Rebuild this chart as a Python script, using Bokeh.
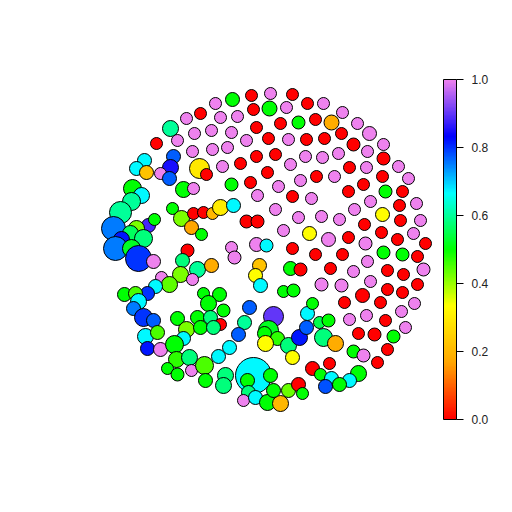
from bokeh.plotting import figure
from bokeh.models import ColumnDataSource, Range1d, ColorBar, LinearColorMapper, FixedTicker, PrintfTickFormatter
from bokeh.embed import file_html
from bokeh.resources import INLINE

# circle data: centre x, centre y (page pixels, y downward), radius, value 0..1
cx = [215, 232, 251, 270, 292, 200, 253, 269, 286, 307, 323, 342, 186, 220, 237, 256, 280, 298, 315, 331,
      357, 170, 194, 211, 231, 268, 288, 306, 324, 341, 369, 246, 156, 177, 227, 212, 192, 256, 275, 305,
      322, 338, 353, 383, 367, 383, 222, 240, 290, 349, 366, 398, 267, 300, 316, 334, 382, 408, 231, 250,
      278, 363, 348, 385, 402, 257, 292, 311, 144, 173, 136, 146, 170, 160, 169, 199, 206, 132, 141, 131,
      183, 193, 120, 113, 148, 154, 136, 130, 121, 143, 115, 131, 138, 153, 172, 181, 193, 203, 212, 220,
      233, 191, 201, 187, 182, 197, 211, 180, 192, 161, 169, 155, 147, 124, 135, 138, 203, 219, 208,
      133, 143, 153, 177, 197, 210, 186, 200, 145, 157, 183, 147, 160, 174, 176, 189, 167, 177, 191, 204,
      205, 220, 223, 213, 249, 244, 238, 229, 218, 273, 268, 264, 277, 265, 288, 299, 306, 307, 312, 319,
      323, 292, 335, 253, 247, 270, 248, 225, 223, 243, 255, 267, 280, 288, 298, 302, 273, 312, 320, 329,
      331, 325, 328, 349, 366, 385, 401, 405, 358, 374, 393, 353, 363, 387, 377, 358, 349, 339,
      246, 257, 275, 298, 321, 283, 309, 328, 256, 266, 231, 234, 292, 315, 259, 255, 260, 290, 300, 321,
      283, 293, 370, 354, 382, 399, 416, 339, 364, 400, 420, 348, 365, 381, 397, 413, 425, 342, 383, 402,
      417, 330, 353, 367, 387, 403, 423, 341, 370, 387, 402, 417, 362, 344, 380, 414]
cy = [103, 99, 95, 93, 94, 113, 109, 108, 107, 103, 103, 112, 118, 117, 116, 127, 123, 122, 119, 122,
      123, 128, 133, 130, 132, 138, 139, 139, 138, 133, 133, 140, 143, 140, 147, 149, 151, 156, 154, 156,
      157, 153, 144, 144, 151, 158, 166, 163, 164, 167, 167, 166, 172, 180, 176, 176, 176, 178, 184, 182,
      186, 184, 191, 191, 191, 195, 196, 198, 160, 156, 168, 172, 167, 173, 178, 168, 174, 188, 195, 201,
      189, 188, 212, 228, 225, 219, 228, 233, 239, 238, 248, 248, 258, 261, 208, 218, 213, 212, 213, 207,
      205, 227, 234, 250, 260, 269, 265, 274, 279, 277, 284, 286, 293, 294, 293, 301, 293, 294, 303,
      308, 317, 320, 318, 317, 317, 329, 327, 336, 332, 338, 348, 349, 344, 359, 357, 368, 374, 370, 365,
      380, 324, 310, 327, 307, 322, 334, 347, 356, 316, 330, 333, 338, 343, 345, 337, 327, 313, 303, 322,
      337, 357, 343, 375, 380, 375, 392, 375, 385, 400, 397, 402, 403, 390, 384, 393, 390, 368, 374, 363,
      378, 386, 320, 319, 315, 320, 311, 327, 333, 334, 336, 351, 355, 349, 362, 373, 380, 384,
      221, 221, 209, 217, 216, 230, 233, 239, 244, 245, 247, 257, 248, 254, 265, 275, 285, 268, 269, 284,
      291, 290, 201, 209, 214, 205, 203, 219, 224, 220, 220, 237, 243, 232, 239, 233, 243, 254, 252, 254,
      256, 268, 271, 261, 270, 274, 269, 285, 281, 289, 292, 284, 295, 302, 302, 303]
rad = [6, 7, 6, 6, 6, 6, 6, 7.5, 6, 6, 6, 6, 6, 6, 6, 6, 6, 6.5, 6, 7.5,
       6, 8, 6, 6, 6, 6, 6, 6, 6, 6, 7, 6, 6, 6, 6, 6, 6, 6, 6, 6,
       6, 6, 6.5, 6, 6, 6.5, 6, 6, 6, 6, 6, 6, 6, 6, 6, 6, 6, 6, 6.5, 6,
       6, 6, 6, 6.5, 6, 6, 6, 6, 7, 7, 7, 7, 8, 6, 7, 10, 6, 9, 8, 9,
       8, 6, 11, 12, 7, 6, 8, 8, 8, 9, 12, 9, 13, 7, 6, 8, 6, 6, 6, 8,
       7, 7, 6, 6.5, 7, 8, 7, 8, 6, 6, 8, 7, 7, 7, 7, 8, 6, 7, 8,
       7, 9, 7, 7, 7, 7, 8, 7, 8, 7, 7, 7, 7, 9, 8, 8, 6, 6.5, 6, 9,
       7, 6, 6.5, 7, 7, 7, 7, 7, 7, 10, 10, 7, 7, 8, 8, 8, 7, 7, 6, 6,
       9, 7, 8, 18, 7, 7, 7, 8, 8, 6, 7, 8, 8, 7, 7, 6, 7, 7, 6, 6,
       7, 7, 6.5, 6, 6, 6, 6, 6, 6, 6.5, 6.5, 6.5, 6.5, 6, 6, 8, 7, 7,
       6.5, 6.5, 6, 6, 6, 6, 7, 7, 7, 6.5, 6, 6.5, 6, 6, 7, 7, 7, 7, 6.5, 6.5,
       6, 6.5, 6, 6, 7, 6, 6, 6, 6, 6, 6, 6, 6.5, 6, 6, 6, 6, 6, 6.5, 6.5,
       6, 6, 6, 6, 6, 6, 6.5, 6.5, 6, 6, 6, 6, 7, 6, 6, 6]
val = [1, 0.5, 0, 1, 0, 0, 0, 0.5, 1, 0, 1, 1, 1, 1, 1, 0, 0, 0.5, 0, 0.18,
       1, 0.6, 1, 1, 1, 0, 1, 0, 0, 0, 1, 1, 0, 1, 1, 1, 1, 0, 0, 1,
       1, 1, 0, 1, 1, 0, 1, 0, 1, 0, 1, 1, 0, 1, 0, 1, 0, 1, 0.5, 0,
       1, 0, 0, 0.5, 0, 1, 0, 1, 0.67, 0.77, 0.67, 0.22, 0.85, 1, 0.77, 0.29, 0, 0.5, 0.67, 0.6,
       0.5, 1, 0.6, 0.75, 0.88, 0.5, 0.42, 0.56, 0.82, 0.58, 0.75, 0.52, 0.8, 1, 0.5, 0.42, 0, 0, 0.2, 0.3,
       0.67, 0.17, 0.5, 0, 0.58, 0.6, 0.18, 0.42, 1, 1, 0.44, 0.67, 0.8, 0.5, 0.45, 0.67, 0.5, 0.5, 0.5,
       0.75, 0.8, 0.77, 0.5, 0.5, 0.58, 0.42, 0.5, 0.67, 0.45, 0.67, 0.82, 1, 0.5, 0.47, 0.58, 0.5, 0.5, 1, 0.45,
       0.5, 0, 0.5, 0.58, 0.77, 0.6, 0.77, 0.67, 0.67, 0.9, 0.52, 0.5, 0.47, 0.33, 0.58, 0.82, 0.77, 0.67, 0.5, 0.55,
       0.58, 0.33, 0.18, 0.67, 0.5, 0.5, 0.58, 0.58, 0.58, 1, 0.67, 0.5, 0.2, 0.43, 0, 0.5, 0.5, 0, 0.5, 0,
       0.67, 0.78, 0.5, 1, 1, 0, 1, 1, 0, 0, 0.5, 0.5, 1, 0, 0, 0.5, 0.67, 0.5,
       0, 0, 1, 1, 1, 1, 0.33, 1, 1, 0.67, 1, 1, 0, 0, 0.22, 0.33, 0.67, 0.5, 0, 1,
       0.5, 0.5, 1, 1, 0.33, 0, 1, 1, 0, 0, 1, 0, 1, 0, 0, 1, 0, 0, 0.5, 0.5,
       0, 0, 1, 1, 0, 0, 1, 1, 1, 0, 0, 0, 0, 0, 0, 1]

bar_ticks = [0.0, 0.2, 0.4, 0.6, 0.8, 1.0]

anchors = ["#FF0000", "#FFA500", "#FFFF00", "#00FF00", "#00FFFF", "#0000FF", "#EE82EE"]


def hex2rgb(h):
    return tuple(int(h[i:i + 2], 16) for i in (1, 3, 5))


def ramp(cols, n):
    rgb = [hex2rgb(c) for c in cols]
    out = []
    for k in range(n):
        t = k / (n - 1) * (len(rgb) - 1)
        i = min(int(t), len(rgb) - 2)
        f = t - i
        c = [round(rgb[i][j] + (rgb[i + 1][j] - rgb[i][j]) * f) for j in range(3)]
        out.append("#%02X%02X%02X" % tuple(c))
    return out


palette = ramp(anchors, 256)
mapper = LinearColorMapper(palette=palette, low=0, high=1)

src = ColumnDataSource(dict(x=cx, y=cy, r=rad, v=val))

p = figure(width=496, height=496, output_backend="svg", toolbar_location=None,
           x_range=Range1d(0, 496), y_range=Range1d(496, 0), min_border=0)
p.axis.visible = False
p.grid.visible = False
p.outline_line_color = None

p.circle(x="x", y="y", radius="r", source=src,
         fill_color={"field": "v", "transform": mapper},
         line_color="black", line_width=1)

cb = ColorBar(color_mapper=mapper, orientation="vertical", width=13, height=340,
              ticker=FixedTicker(ticks=bar_ticks),
              formatter=PrintfTickFormatter(format="%.1f"),
              major_tick_out=7, major_tick_in=0, major_tick_line_color="black",
              bar_line_color="black", label_standoff=8, padding=0,
              major_label_text_font="Liberation Sans", major_label_text_font_size="12px",
              major_label_text_color="#222222",
              background_fill_alpha=0, border_line_color=None,
              location=(443, 77))
p.add_layout(cb, "center")

open("out.html", "w").write(file_html(p, INLINE))
